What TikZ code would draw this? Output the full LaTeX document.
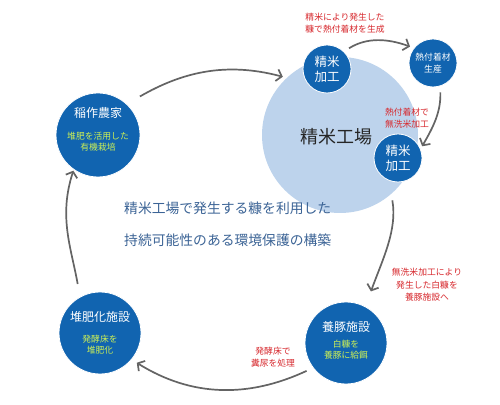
\documentclass[tikz,border=0pt]{standalone}
\usepackage{fontspec}
\setmainfont{Noto Sans CJK JP}
\usetikzlibrary{arrows.meta}
\definecolor{dblue}{RGB}{17,100,176}
\definecolor{lblue}{RGB}{189,211,236}
\definecolor{lgreen}{RGB}{205,240,85}
\definecolor{lred}{RGB}{215,40,45}
\definecolor{midtext}{RGB}{60,100,150}
\definecolor{arrgray}{RGB}{100,100,100}
\tikzset{
  bigc/.style={circle,fill=dblue,draw=white,line width=0.8pt,inner sep=0pt,minimum size=#1,text=white,align=center},
  titlet/.style={text=white,font=\fontsize{12}{14}\selectfont,inner sep=0pt},
  greent/.style={text=lgreen,align=center,font=\fontsize{8.8}{11}\selectfont,inner sep=0pt},
  redt/.style={align=center,text=lred,font=\fontsize{8.8}{12.5}\selectfont},
  arr/.style={draw=arrgray,line width=1.7pt,-{Straight Barb[length=5pt,width=12pt,line width=1.7pt]}},
  midt/.style={text=midtext,font=\fontsize{13.8}{16}\selectfont,anchor=west,inner sep=0pt}
}
\begin{document}
\begin{tikzpicture}[x=1pt,y=1pt]
\useasboundingbox[fill=white] (0,0) rectangle (500,404);
% big light circle
\node[circle,fill=lblue,minimum size=156pt,inner sep=0pt] (factory) at (340,269) {};
\node[font=\fontsize{18}{20}\selectfont,text=black!85] (factoryt) at (336,267) {精米工場};
% small circles
\node[bigc=48pt,font=\fontsize{12.5}{15}\selectfont] (mill1) at (327,335) {精米\\加工};
\node[bigc=48pt,font=\fontsize{8.8}{12}\selectfont] (heat) at (433,341) {熱付着材\\生産};
\node[bigc=48pt,font=\fontsize{12.5}{15}\selectfont] (mill2) at (398,246) {精米\\加工};
% large circles
\node[bigc=84pt] (farm) at (98,269) {};
\node[titlet] (farmt) at (98,291) {稲作農家};
\node[greent] (farmg) at (98,262) {堆肥を活用した\\有機栽培};
\node[bigc=82pt] (compost) at (100,71) {};
\node[titlet] (compostt) at (100,87) {堆肥化施設};
\node[greent] (compostg) at (100,59) {発酵床を\\堆肥化};
\node[bigc=82pt] (pig) at (346,61) {};
\node[titlet] (pigt) at (346,77) {養豚施設};
\node[greent] (pigg) at (346,54) {白糠を\\養豚に給餌};
% central texts
\node[midt] (mid1) at (124,196) {精米工場で発生する糠を利用した};
\node[midt] (mid2) at (124,164) {持続可能性のある環境保護の構築};
% red labels
\node[redt] (r1) at (345,381) {精米により発生した\\糠で熱付着材を生成};
\node[redt] (r2) at (407,286) {熱付着材で\\無洗米加工};
\node[redt] (r3) at (427,119) {無洗米加工により\\発生した白糠を\\養豚施設へ};
\node[redt] (r4) at (273,47) {発酵床で\\糞尿を処理};
% arrows
\draw[arr,shorten <=15pt,shorten >=4pt] (farm.47) to[out=30,in=165] (factory.133);
\draw[arr,shorten <=6pt,shorten >=4pt] (mill1.46) to[out=32,in=160] (heat.142);
\draw[arr,shorten <=6pt,shorten >=3pt] (heat.-73) to[out=-88,in=60] (mill2.22);
\draw[arr,shorten <=20pt,shorten >=16pt] (mill2.-112) to[out=-80,in=70] (pig.62);
\draw[arr,shorten <=7pt,shorten >=6pt] (pig.217) to[out=205,in=-32] (compost.-40);
\draw[arr,shorten <=13pt,shorten >=1pt] (compost.119) to[out=100,in=-108] (farm.-125);
\end{tikzpicture}
\end{document}
